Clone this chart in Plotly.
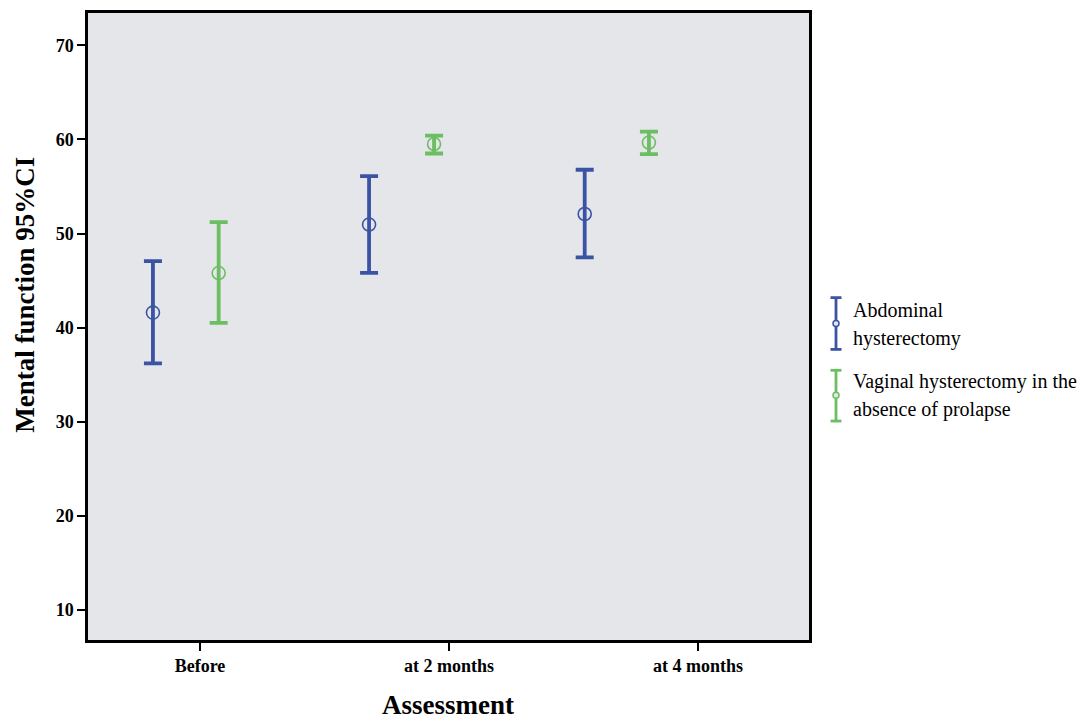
import plotly.graph_objects as go

# ---- data ----
categories = ["Before", "at 2 months", "at 4 months"]
cat_pos = [0, 1, 2]
abd_x = [-0.189, 0.679, 1.545]
vag_x = [0.075, 0.940, 1.803]
abd_mean = [41.6, 50.95, 52.07]
abd_upper = [47.07, 56.1, 56.77]
abd_lower = [36.2, 45.83, 47.46]
vag_mean = [45.8, 59.5, 59.66]
vag_upper = [51.2, 60.4, 60.83]
vag_lower = [40.5, 58.5, 58.43]
y_ticks = [10, 20, 30, 40, 50, 60, 70]
series_names = ["Abdominal", "hysterectomy", "Vaginal hysterectomy in the", "absence of prolapse"]

BLUE = "#3b53a4"
GREEN = "#6cbe62"
FONT = "Liberation Serif"

# page body has an 8px margin: figure coords = screen coords - 8
OFF = 8
W, H = 1088 - OFF, 720 - OFF
L, T = 88 - OFF, 10 - OFF
R = W - (809 - OFF)
B = H - (640 - OFF)
PW, PH = W - L - R, H - T - B


def px(x):
    return (x - OFF - L) / PW


def py(y):
    return (H - B - (y - OFF)) / PH


fig = go.Figure()

for xs, m, up, lo, col in [
    (abd_x, abd_mean, abd_upper, abd_lower, BLUE),
    (vag_x, vag_mean, vag_upper, vag_lower, GREEN),
]:
    fig.add_trace(go.Scatter(
        x=xs, y=m, mode="markers",
        marker=dict(symbol="circle-open", size=13, color=col, line=dict(width=1.6, color=col)),
        error_y=dict(type="data", symmetric=False,
                     array=[u - v for u, v in zip(up, m)],
                     arrayminus=[v - l for v, l in zip(m, lo)],
                     color=col, thickness=3.8, width=9),
        showlegend=False, hoverinfo="skip",
    ))

fig.update_layout(
    width=W, height=H,
    margin=dict(l=L, r=R, t=T, b=B, pad=0),
    paper_bgcolor="white",
    plot_bgcolor="#e5e6e9",
    showlegend=False,
    font=dict(family=FONT, color="black"),
)
fig.update_xaxes(
    range=[-0.4498, 2.4458], tickvals=cat_pos, ticktext=categories,
    showgrid=False, zeroline=False,
    showline=True, linecolor="black", linewidth=2.5, mirror=True,
    ticks="outside", ticklen=8, tickwidth=2, tickcolor="black",
    tickfont=dict(family=FONT, size=18, weight="bold", color="black"),
)
fig.update_yaxes(
    range=[6.83, 73.42], tickvals=y_ticks,
    showgrid=False, zeroline=False,
    showline=True, linecolor="black", linewidth=2.5, mirror=True,
    ticks="outside", ticklen=8, tickwidth=2, tickcolor="black",
    tickfont=dict(family=FONT, size=18, weight="bold", color="black"),
)

# axis titles
fig.add_annotation(text="Mental function 95%CI", xref="paper", yref="paper",
                   x=px(25), y=py(293), textangle=-90, showarrow=False,
                   xanchor="center", yanchor="middle",
                   font=dict(family=FONT, size=27, weight="bold", color="black"))
fig.add_annotation(text="Assessment", xref="paper", yref="paper",
                   x=px(448), y=py(705), showarrow=False,
                   xanchor="center", yanchor="middle",
                   font=dict(family=FONT, size=27, weight="bold", color="black"))

# legend (custom, to show error-bar icons)
line_y = [308, 337, 380, 408]
for txt, yy in zip(series_names, line_y):
    fig.add_annotation(text=txt, xref="paper", yref="paper", x=px(851), y=py(yy),
                       showarrow=False, xanchor="left", yanchor="middle",
                       font=dict(family=FONT, size=20, color="black"))

for col, top, bot, mid in [(BLUE, 296, 348, 322), (GREEN, 369, 420, 394)]:
    xc = 836
    fig.add_shape(type="line", xref="paper", yref="paper", x0=px(xc), x1=px(xc),
                  y0=py(top), y1=py(bot), line=dict(color=col, width=2.8))
    for yy in (top, bot):
        fig.add_shape(type="line", xref="paper", yref="paper", x0=px(xc - 5.5), x1=px(xc + 5.5),
                      y0=py(yy), y1=py(yy), line=dict(color=col, width=2.8))
    fig.add_shape(type="circle", xref="paper", yref="paper", x0=px(xc - 3), x1=px(xc + 3),
                  y0=py(mid + 3), y1=py(mid - 3), fillcolor="#e5e6e9", line=dict(color=col, width=1.5))

fig.write_html("out.html")
